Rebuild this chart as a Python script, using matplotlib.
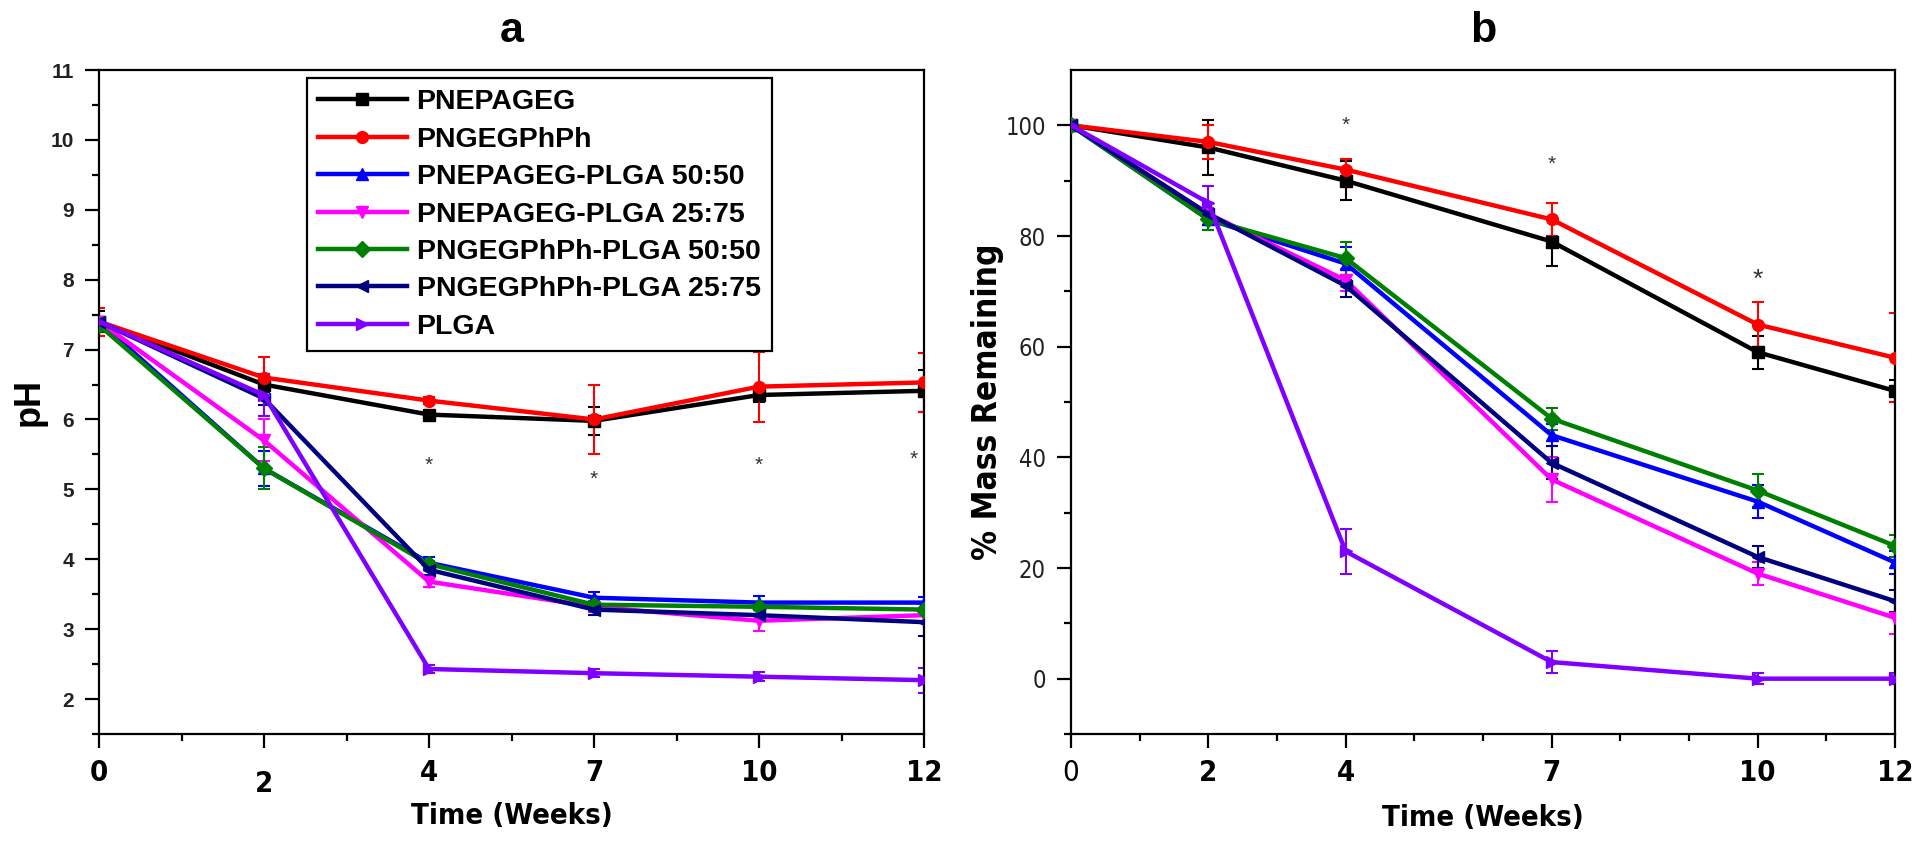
import numpy as np
import matplotlib.pyplot as plt
from matplotlib import font_manager
from matplotlib.ticker import FixedLocator, MultipleLocator
from matplotlib.transforms import ScaledTranslation

# ── data ─────────────────────────────────────
series_names = ["PNEPAGEG", "PNGEGPhPh", "PNEPAGEG-PLGA 50:50", "PNEPAGEG-PLGA 25:75",
                "PNGEGPhPh-PLGA 50:50", "PNGEGPhPh-PLGA 25:75", "PLGA"]
series_colors = ["#000000", "#ff0000", "#0000ff", "#ff00ff", "#008000", "#000080", "#7f00ff"]
series_markers = ["s", "o", "^", "v", "D", "<", ">"]

week_labels = ["0", "2", "4", "7", "10", "12"]
weeks = [0, 2, 4, 7, 10, 12]

# panel a: pH (weeks shown as evenly spaced categories)
ph_pnepageg = [7.40, 6.50, 6.07, 5.98, 6.35, 6.41]
ph_pngegphph = [7.40, 6.60, 6.27, 6.00, 6.47, 6.53]
ph_pnepageg_50 = [7.40, 5.30, 3.95, 3.45, 3.38, 3.38]
ph_pnepageg_25 = [7.40, 5.70, 3.68, 3.32, 3.12, 3.20]
ph_pngegphph_50 = [7.35, 5.30, 3.93, 3.35, 3.32, 3.28]
ph_pngegphph_25 = [7.40, 6.30, 3.85, 3.28, 3.20, 3.10]
ph_plga = [7.40, 6.35, 2.43, 2.37, 2.32, 2.27]

ph_err_pnepageg = [0.15, 0.15, 0.05, 0.20, 0.10, 0.30]
ph_err_pngegphph = [0.20, 0.30, 0.05, 0.50, 0.50, 0.42]
ph_err_pnepageg_50 = [0.05, 0.25, 0.08, 0.08, 0.10, 0.08]
ph_err_pnepageg_25 = [0.05, 0.30, 0.08, 0.08, 0.15, 0.10]
ph_err_pngegphph_50 = [0.05, 0.30, 0.05, 0.05, 0.05, 0.08]
ph_err_pngegphph_25 = [0.05, 0.10, 0.08, 0.08, 0.08, 0.20]
ph_err_plga = [0.05, 0.30, 0.06, 0.06, 0.06, 0.18]

ph_star_x = [2, 3, 4, 4.94]
ph_star_y = [5.35, 5.15, 5.35, 5.43]

# panel b: % mass remaining
mass_pnepageg = [100, 96, 90, 79, 59, 52]
mass_pngegphph = [100, 97, 92, 83, 64, 58]
mass_pnepageg_50 = [100, 83, 75, 44, 32, 21]
mass_pnepageg_25 = [100, 84, 72, 36, 19, 11]
mass_pngegphph_50 = [100, 83, 76, 47, 34, 24]
mass_pngegphph_25 = [100, 84, 71, 39, 22, 14]
mass_plga = [100, 86, 23, 3, 0, 0]

mass_err_pnepageg = [0, 5, 3.5, 4.5, 3, 2]
mass_err_pngegphph = [0, 3, 2, 3, 4, 8]
mass_err_pnepageg_50 = [0, 2, 3, 2, 3, 2]
mass_err_pnepageg_25 = [0, 2, 2, 4, 2, 3]
mass_err_pngegphph_50 = [0, 2, 3, 2, 3, 2]
mass_err_pngegphph_25 = [0, 2, 2, 3, 2, 2]
mass_err_plga = [0, 3, 4, 2, 1, 1]

mass_star_x = [4, 7, 10]
mass_star_y = [100, 93, 72]

ph_table = [ph_pnepageg, ph_pngegphph, ph_pnepageg_50, ph_pnepageg_25,
            ph_pngegphph_50, ph_pngegphph_25, ph_plga]
ph_err_table = [ph_err_pnepageg, ph_err_pngegphph, ph_err_pnepageg_50, ph_err_pnepageg_25,
                ph_err_pngegphph_50, ph_err_pngegphph_25, ph_err_plga]
mass_table = [mass_pnepageg, mass_pngegphph, mass_pnepageg_50, mass_pnepageg_25,
              mass_pngegphph_50, mass_pngegphph_25, mass_plga]
mass_err_table = [mass_err_pnepageg, mass_err_pngegphph, mass_err_pnepageg_50, mass_err_pnepageg_25,
                  mass_err_pngegphph_50, mass_err_pngegphph_25, mass_err_plga]

# ── fonts ────────────────────────────────────
fonts = font_manager.fontManager.ttflist
installed = {f.name for f in fonts}
wide = "Liberation Sans" if "Liberation Sans" in installed else "DejaVu Sans"
plt.rcParams["font.family"] = [wide, "DejaVu Sans"]

# condensed face for the tick numbers and the time label, if one is available
if "Liberation Sans Narrow" in installed:
    narrow = dict(family=["Liberation Sans Narrow", "DejaVu Sans"])
elif any(f.name == "DejaVu Sans" and f.stretch == "condensed" for f in fonts):
    narrow = dict(family=["DejaVu Sans"], fontstretch="condensed")
else:
    narrow = dict(family=[wide, "DejaVu Sans"])


def style_axes(ax):
    for s in ax.spines.values():
        s.set_linewidth(1.6)
    ax.tick_params(which="major", direction="out", length=10, width=1.6)
    ax.tick_params(which="minor", direction="out", length=5, width=1.6)
    ax.tick_params(axis="x", which="major", pad=8)
    ax.tick_params(axis="y", which="major", pad=8)


def draw_series(ax, x, table, err_table):
    for vals, errs, name, col, mk in zip(table, err_table, series_names,
                                        series_colors, series_markers):
        ax.errorbar(x, vals, yerr=errs, fmt="none", ecolor=col, elinewidth=1.5,
                    capsize=4, capthick=1.5, zorder=2)
        ax.plot(x, vals, color=col, marker=mk, markersize=8.5, linewidth=3.2,
                label=name, zorder=3)


fig = plt.figure(figsize=(19.17, 8.42), dpi=100)
ax_a = fig.add_axes([99 / 1917, 108 / 842, 825 / 1917, 664 / 842])
ax_b = fig.add_axes([1071 / 1917, 108 / 842, 824 / 1917, 664 / 842])

# ── panel a ──────────────────────────────────
pos = np.arange(len(weeks))
draw_series(ax_a, pos, ph_table, ph_err_table)
for sx, sy in zip(ph_star_x, ph_star_y):
    ax_a.text(sx, sy, "*", ha="center", va="center", fontsize=15, color="#333333")
ax_a.set_xlim(0, len(weeks) - 1)
ax_a.set_ylim(1.5, 11)
ax_a.set_xticks(pos)
ax_a.set_xticklabels(week_labels, fontsize=21, fontweight="bold", **narrow)
ax_a.xaxis.set_minor_locator(MultipleLocator(0.5))
ax_a.set_yticks(np.arange(2, 12))
ax_a.set_yticklabels([str(v) for v in range(2, 12)], fontsize=15, fontweight="bold",
                     color="#222222")
ax_a.yaxis.set_minor_locator(MultipleLocator(0.5))
style_axes(ax_a)
# the "2" label sits a little lower in the original
lab2 = ax_a.get_xticklabels()[1]
lab2.set_transform(lab2.get_transform() + ScaledTranslation(0, -8 / 72, fig.dpi_scale_trans))
ax_a.set_xlabel("Time (Weeks)", fontsize=21, fontweight="bold", labelpad=3, **narrow)
ax_a.set_ylabel("pH", fontsize=26, fontweight="bold", labelpad=3)
ax_a.set_title("a", fontsize=31, fontweight="bold", pad=20)
leg = ax_a.legend(loc="upper left", bbox_to_anchor=(0.252, 0.988), borderaxespad=0,
                  handlelength=3.1, handletextpad=0.35, frameon=True, fancybox=False,
                  edgecolor="black", framealpha=1, labelspacing=0.4,
                  prop={"weight": "bold", "size": 20.5})
leg.get_frame().set_linewidth(1.6)

# ── panel b ──────────────────────────────────
draw_series(ax_b, weeks, mass_table, mass_err_table)
for sx, sy in zip(mass_star_x, mass_star_y):
    ax_b.text(sx, sy, "*", ha="center", va="center", fontsize=15 if sx < 10 else 19,
              color="#333333")
ax_b.set_xlim(0, 12)
ax_b.set_ylim(-10, 110)
ax_b.set_xticks(weeks)
ax_b.set_xticklabels(week_labels, fontsize=21, fontweight="bold", **narrow)
ax_b.get_xticklabels()[0].set_fontweight("normal")
ax_b.xaxis.set_minor_locator(FixedLocator([1, 3, 5, 6, 8, 9, 11]))
ax_b.set_yticks([0, 20, 40, 60, 80, 100])
ax_b.set_yticklabels(["0", "20", "40", "60", "80", "100"], fontsize=17, color="#222222", **narrow)
ax_b.yaxis.set_minor_locator(FixedLocator([-10, 10, 30, 50, 70, 90]))
style_axes(ax_b)
ax_b.set_xlabel("Time (Weeks)", fontsize=21, fontweight="bold", labelpad=12, **narrow)
ax_b.set_ylabel("% Mass Remaining", fontsize=24, fontweight="bold", labelpad=1, **narrow)
ax_b.set_title("b", fontsize=31, fontweight="bold", pad=20)

plt.savefig("out.png", dpi=100)
